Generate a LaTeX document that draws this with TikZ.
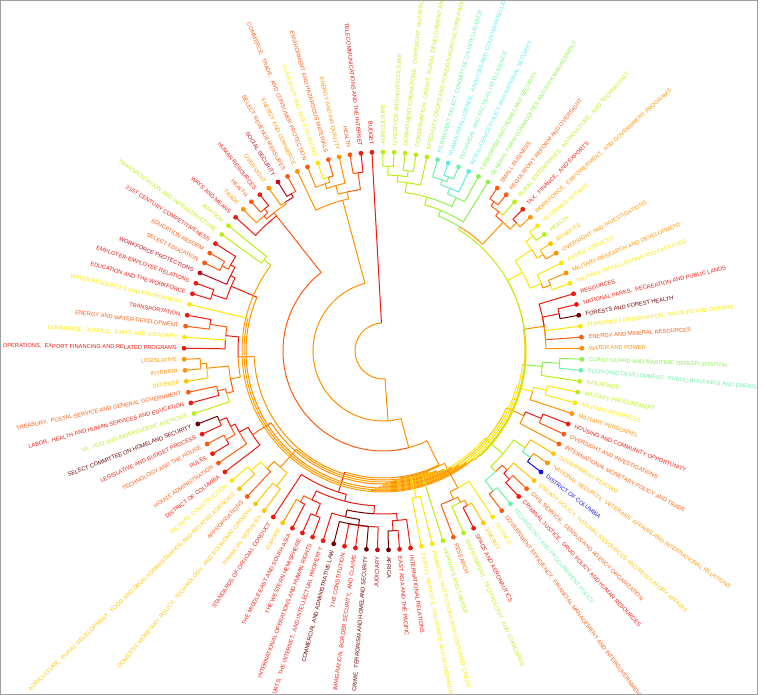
\documentclass[tikz,border=0pt]{standalone}
\usepackage{fontspec}
\setmainfont{Liberation Sans}
\definecolor{cYG}{RGB}{185,238,20}
\definecolor{cGR}{RGB}{140,240,80}
\definecolor{cAQ}{RGB}{110,240,170}
\definecolor{cCY}{RGB}{90,235,240}
\definecolor{cYE}{RGB}{250,232,0}
\definecolor{cGO}{RGB}{255,195,0}
\definecolor{cOR}{RGB}{255,145,0}
\definecolor{cOO}{RGB}{255,90,15}
\definecolor{cRE}{RGB}{240,25,15}
\definecolor{cDR}{RGB}{190,10,30}
\definecolor{cMA}{RGB}{110,0,0}
\definecolor{cBL}{RGB}{20,20,220}
\definecolor{cRing}{RGB}{255,160,0}
\definecolor{cRing2}{RGB}{255,180,0}
\newcommand\dd{3.18584}
% child idx, child r, parent r, parent idx, colour
\newcommand\br[5]{%
  \pgfmathsetmacro\ca{90-(#1-1)*\dd}%
  \pgfmathsetmacro\pa{90-(#4-1)*\dd}%
  \draw[brl,#5] (\ca:#2pt) -- (\ca:#3pt) arc[start angle=\ca, end angle=\pa, radius=#3pt];}
% child idx, child r, parent r, parent idx, radial colour, arc colour
\newcommand\bra[6]{%
  \pgfmathsetmacro\ca{90-(#1-1)*\dd}%
  \pgfmathsetmacro\pa{90-(#4-1)*\dd}%
  \draw[brl,#6] (\ca:#3pt) arc[start angle=\ca, end angle=\pa, radius=#3pt];
  \draw[brl,#5] (\ca:#2pt) -- (\ca:#3pt);}
% idx, colour, text
\newcommand\leaf[3]{%
  \pgfmathsetmacro\ca{90-(#1-1)*\dd}%
  \pgfmathtruncatemacro\lside{\ca<-90 ? 1 : 0}%
  \node[dotst, fill=#2] (L#1) at (\ca:199pt) {};
  \ifnum\lside=1
    \pgfmathsetmacro\rot{\ca+180}%
    \node[lab, text=#2, rotate=\rot, anchor=east] (T#1) at (\ca:206pt) {#3};
  \else
    \node[lab, text=#2, rotate=\ca, anchor=west] (T#1) at (\ca:206pt) {#3};
  \fi}
\begin{document}
\begin{tikzpicture}[x=1pt,y=1pt,
  lab/.style={font=\fontsize{5.7}{6}\selectfont, inner sep=0pt},
  dotst/.style={circle, inner sep=0pt, minimum size=4.8pt, draw=none},
  brl/.style={line width=1pt, line join=round}]
\useasboundingbox (-383,-344) rectangle (380,351);
\begin{scope}
\clip (-382.5,-343) rectangle (374,350.5);
% ---- root and main trunk
\br{113}{199}{28}{113}{cRE}
\br{56.2}{70}{28}{113}{cOR}
\br{109.3}{156}{70}{56.2}{cOR}
\br{52.8}{100}{70}{56.2}{cOR}
\br{102}{172}{100}{52.8}{cOO}
\br{49.3}{127}{100}{52.8}{cOR}
% ---- ring chain
\br{50.5}{128}{127}{49.3}{cRing}
\br{55}{129}{128}{50.5}{cOR}
\br{51}{130}{129}{55}{cRing}
\br{56}{131}{130}{51}{cRing2}
\br{50}{132}{131}{56}{cRing}
\br{57}{133}{132}{50}{cOR}
\br{49}{134}{133}{57}{cRing}
\br{57.5}{135}{134}{49}{cRing2}
\br{48}{136}{135}{57.5}{cRing}
\br{58}{137}{136}{48}{cOR}
\br{47}{138}{137}{58}{cRing}
\br{58.5}{139}{138}{47}{cRing2}
\br{46}{140}{139}{58.5}{cRing}
\br{59}{141}{140}{46}{cOR}
\br{45}{142}{141}{59}{cRing}
\br{44}{143}{142}{45}{cRing2}
% ---- clusters onto ring
\bra{63}{148}{127}{49.3}{cRE}{cOR}
\bra{48.5}{156}{128}{50.5}{cOR}{cRing}
\bra{85}{145}{129}{55}{cOR}{cOR}
\bra{53.5}{150}{130}{51}{cYE}{cGO}
\bra{70.5}{155}{131}{56}{cOR}{cRing}
\bra{52}{199}{132}{50}{cYG}{cGO}
\bra{75.5}{155}{133}{57}{cOO}{cOR}
\bra{42}{158}{134}{49}{cYG}{cYE}
\bra{37}{155}{136}{48}{cOR}{cGO}
\bra{93}{165}{137}{58}{cRE}{cOR}
\bra{34}{155}{138}{47}{cYE}{cYE}
\bra{90}{199}{139}{58.5}{cYE}{cRing}
\bra{31}{160}{140}{46}{cGR}{cYE}
\bra{97.5}{150}{141}{59}{cYG}{cRing}
\bra{26.5}{163}{142}{45}{cOR}{cGO}
\bra{20}{160}{143}{44}{cYE}{cYE}
\bra{11}{146}{143}{44}{cGR}{cYG}
% ---- T1 agriculture / intelligence / small business
\br{1}{199}{185}{1.5}{cYG}\br{2}{199}{185}{1.5}{cYG}
\br{3}{199}{182}{3.5}{cYG}\br{4}{199}{182}{3.5}{cYG}
\br{1.5}{185}{176}{2.5}{cYG}\br{3.5}{182}{176}{2.5}{cYG}
\br{5}{199}{170}{3.5}{cYG}\br{2.5}{176}{170}{3.5}{cYG}
\br{7}{199}{186}{7.5}{cCY}\br{8}{199}{186}{7.5}{cAQ}
\br{6}{199}{181}{7}{cAQ}\br{7.5}{186}{181}{7}{cAQ}
\br{9}{199}{176}{8}{cCY}\br{7}{181}{176}{8}{cAQ}
\br{10}{199}{170}{9}{cGR}\br{8}{176}{170}{9}{cAQ}
\br{3.5}{170}{160}{6}{cYG}\br{9}{170}{160}{6}{cGR}
\br{11}{199}{152}{8}{cGR}\br{6}{160}{152}{8}{cYG}
\br{12}{199}{186}{12.5}{cOO}\br{13}{199}{186}{12.5}{cOO}
\br{14}{199}{181}{13.5}{cYG}\br{12.5}{186}{181}{13.5}{cOO}
\br{15}{199}{185}{15.5}{cRE}\br{16}{199}{185}{15.5}{cOR}
\br{13.5}{181}{176}{14.5}{cOO}\br{15.5}{185}{176}{14.5}{cOR}
\br{8}{152}{146}{11}{cGR}\br{14.5}{176}{146}{11}{cOR}
% ---- T2 veterans / armed services
\br{17}{199}{189}{17.5}{cYE}\br{18}{199}{189}{17.5}{cYG}
\br{19}{199}{187}{19.5}{cGO}\br{20}{199}{187}{19.5}{cOR}
\br{17.5}{189}{180}{18.5}{cYE}\br{19.5}{187}{180}{18.5}{cGO}
\br{22}{199}{180}{22.5}{cOR}\br{23}{199}{180}{22.5}{cYE}
\br{21}{199}{172}{22}{cYE}\br{22.5}{180}{172}{22}{cOR}
\br{18.5}{180}{160}{20}{cYE}\br{22}{172}{160}{20}{cYE}
% ---- T3 resources
\br{25}{199}{180}{25.5}{cRE}\br{26}{199}{180}{25.5}{cMA}
\br{24}{199}{163}{26.5}{cRE}\br{25.5}{180}{163}{26.5}{cRE}
\br{27}{199}{163}{26.5}{cYE}\br{28}{199}{163}{26.5}{cOO}\br{29}{199}{163}{26.5}{cOR}
% ---- T4 transport
\br{30}{199}{177}{30.5}{cGR}\br{31}{199}{177}{30.5}{cAQ}
\br{30.5}{177}{160}{31}{cGR}\br{32}{199}{160}{31}{cYG}
% ---- T5 armed 2
\br{33}{199}{168}{33.5}{cYE}\br{34}{199}{168}{33.5}{cYE}
\br{33.5}{168}{155}{34}{cYE}\br{35}{199}{155}{34}{cOR}
% ---- T6 financial
\br{36}{199}{172}{36.5}{cRE}\br{37}{199}{172}{36.5}{cOO}
\br{36.5}{172}{155}{37}{cRE}\br{38}{199}{155}{37}{cOR}
% ---- T7 government reform
\br{40}{199}{182}{40.5}{cOR}\br{41}{199}{182}{40.5}{cBL}
\br{39}{199}{172}{40}{cGO}\br{40.5}{182}{172}{40}{cAQ}
\br{43}{199}{180}{43.5}{cOO}\br{44}{199}{180}{43.5}{cRE}
\br{42}{199}{172}{43}{cGO}\br{43.5}{180}{172}{43}{cRE}
\br{45}{199}{178}{45.5}{cAQ}\br{46}{199}{178}{45.5}{cOO}
\br{43}{172}{165}{44}{cOO}\br{45.5}{178}{165}{44}{cAQ}
\br{40}{172}{158}{42}{cYG}\br{44}{165}{158}{42}{cYG}
% ---- T8 science
\br{48}{199}{176}{48.5}{cGO}\br{49}{199}{176}{48.5}{cRE}
\br{50}{199}{170}{49}{cYG}\br{48.5}{176}{170}{49}{cOR}
\br{51}{199}{164}{49.5}{cOO}\br{49}{170}{164}{49.5}{cOR}
\br{47}{199}{156}{48.5}{cYE}\br{49.5}{164}{156}{48.5}{cOR}
% ---- T10
\br{53}{199}{150}{53.5}{cYE}\br{54}{199}{150}{53.5}{cYE}
% ---- T11 international relations / judiciary
\br{56}{199}{180}{56.5}{cRE}\br{57}{199}{180}{56.5}{cMA}
\br{55}{199}{170}{56}{cRE}\br{56.5}{180}{170}{56}{cRE}
\br{58}{199}{176}{60}{cRE}\br{59}{199}{176}{60}{cMA}\br{60}{199}{176}{60}{cRE}
\br{61}{199}{176}{60}{cRE}\br{62}{199}{176}{60}{cMA}
\br{63}{199}{170}{61.5}{cRE}\br{60}{176}{170}{61.5}{cMA}
\br{56}{170}{163}{58.5}{cRE}\br{61.5}{170}{163}{58.5}{cMA}
\br{64}{199}{178}{64.5}{cRE}\br{65}{199}{178}{64.5}{cRE}
\br{66}{199}{172}{66.5}{cRE}\br{67}{199}{172}{66.5}{cOR}
\br{64.5}{178}{165}{65.5}{cRE}\br{66.5}{172}{165}{65.5}{cOO}
\br{58.5}{163}{155}{62}{cRE}\br{65.5}{165}{155}{62}{cRE}
\br{68}{199}{148}{63}{cRE}\br{62}{155}{148}{63}{cRE}
% ---- T12
\br{69}{199}{172}{69.5}{cGO}\br{70}{199}{172}{69.5}{cGO}
\br{72}{199}{178}{72.5}{cGO}\br{73}{199}{178}{72.5}{cYE}
\br{71}{199}{165}{71.5}{cOO}\br{72.5}{178}{165}{71.5}{cYE}
\br{69.5}{172}{155}{70.5}{cGO}\br{71.5}{165}{155}{70.5}{cOR}
% ---- T13
\br{76}{199}{180}{76.5}{cRE}\br{77}{199}{180}{76.5}{cOO}
\br{78}{199}{178}{78.5}{cRE}\br{79}{199}{178}{78.5}{cMA}
\br{76.5}{180}{170}{77.5}{cOO}\br{78.5}{178}{170}{77.5}{cRE}
\br{75}{199}{165}{76.5}{cOO}\br{77.5}{170}{165}{76.5}{cRE}
\br{74}{199}{155}{75.5}{cRE}\br{76.5}{165}{155}{75.5}{cRE}
% ---- T14 appropriations
\br{88}{199}{175}{88.5}{cOO}\br{89}{199}{175}{88.5}{cRE}
\br{86}{199}{158}{87.5}{cRE}\br{87}{199}{158}{87.5}{cYE}\br{88.5}{175}{158}{87.5}{cOO}
\br{84}{199}{183}{84.5}{cOR}\br{85}{199}{183}{84.5}{cOR}
\br{83}{199}{177}{84}{cGO}\br{84.5}{183}{177}{84}{cOR}
\br{81}{199}{170}{81.5}{cRE}\br{82}{199}{170}{81.5}{cOO}
\br{80}{199}{162}{81}{cYG}\br{81.5}{170}{162}{81}{cOO}
\br{81}{162}{155}{82.5}{cOO}\br{84}{177}{155}{82.5}{cOR}
\br{82.5}{155}{145}{85}{cOR}\br{87.5}{158}{145}{85}{cRE}
% ---- T15 education and workforce
\br{91}{199}{180}{91.5}{cRE}\br{92}{199}{180}{91.5}{cRE}
\br{94}{199}{182}{94.5}{cOO}\br{95}{199}{182}{94.5}{cOO}
\br{96}{199}{175}{95}{cRE}\br{94.5}{182}{175}{95}{cOO}
\br{93}{199}{170}{94}{cDR}\br{95}{175}{170}{94}{cRE}
\br{91.5}{180}{165}{93}{cRE}\br{94}{170}{165}{93}{cRE}
% ---- T16
\br{97}{199}{150}{97.5}{cYG}\br{98}{199}{150}{97.5}{cYG}
% ---- ways and means
\br{104}{199}{182}{104.5}{cDR}\br{105}{199}{182}{104.5}{cOO}
\br{101}{199}{185}{101.5}{cOO}\br{102}{199}{185}{101.5}{cRE}
\br{103}{199}{178}{103.5}{cOR}\br{104.5}{182}{178}{103.5}{cDR}
\br{100}{199}{180}{101}{cOR}\br{101.5}{185}{180}{101}{cOO}
\br{101}{180}{176}{102}{cOO}\br{103.5}{178}{176}{102}{cOR}
\br{99}{199}{172}{102}{cRE}\br{102}{176}{172}{102}{cOO}
% ---- energy and commerce
\br{108}{199}{182}{108.5}{cYE}\br{109}{199}{182}{108.5}{cOO}
\br{107}{199}{177}{108}{cOR}\br{108.5}{182}{177}{108}{cOR}
\br{110}{199}{172}{109}{cOR}\br{108}{177}{172}{109}{cOR}
\br{111}{199}{180}{111.5}{cOO}\br{112}{199}{180}{111.5}{cRE}
\br{109}{172}{163}{110}{cOR}\br{111.5}{180}{163}{110}{cOO}
\br{106}{199}{156}{109.3}{cOR}\br{110}{163}{156}{109.3}{cOR}
% ---- leaves
\leaf{1}{cYG}{AGRICULTURE}
\leaf{2}{cYG}{LIVESTOCK AND HORTICULTURE}
\leaf{3}{cYG}{DEPARTMENT OPERATIONS,~ OVERSIGHT,~ NUTRITION,~ AND FORESTRY}
\leaf{4}{cYG}{CONSERVATION,~ CREDIT,~ RURAL DEVELOPMENT AND RESEARCH}
\leaf{5}{cYG}{SPECIALTY CROPS AND FOREIGN AGRICULTURE PROGRAMS}
\leaf{6}{cAQ}{PERMANENT SELECT COMMITTEE ON INTELLIGENCE}
\leaf{7}{cCY}{HUMAN INTELLIGENCE,~ ANALYSIS AND COUNTERINTELLIGENCE}
\leaf{8}{cAQ}{TECHNICAL AND TACTICAL INTELLIGENCE}
\leaf{9}{cCY}{INTELLIGENCE POLICY AND NATIONAL SECURITY}
\leaf{10}{cGR}{TERRORISM AND HOMELAND SECURITY}
\leaf{11}{cGR}{GENERAL FARM COMMODITIES AND RISK MANAGEMENT}
\leaf{12}{cOO}{SMALL BUSINESS}
\leaf{13}{cOO}{REGULATORY REFORM AND OVERSIGHT}
\leaf{14}{cYG}{RURAL ENTERPRISES,~ AGRICULTURE,~ AND TECHNOLOGY}
\leaf{15}{cRE}{TAX,~ FINANCE,~ AND EXPORTS}
\leaf{16}{cOR}{WORKFORCE,~ EMPOWERMENT,~ AND GOVERNMENT PROGRAMS}
\leaf{17}{cYE}{VETERANS' AFFAIRS}
\leaf{18}{cYG}{HEALTH}
\leaf{19}{cGO}{BENEFITS}
\leaf{20}{cOR}{OVERSIGHT AND INVESTIGATIONS}
\leaf{21}{cYE}{ARMED SERVICES}
\leaf{22}{cOR}{MILITARY RESEARCH AND DEVELOPMENT}
\leaf{23}{cYE}{MILITARY INSTALLATIONS AND FACILITIES}
\leaf{24}{cRE}{RESOURCES}
\leaf{25}{cRE}{NATIONAL PARKS,~ RECREATION AND PUBLIC LANDS}
\leaf{26}{cMA}{FORESTS AND FOREST HEALTH}
\leaf{27}{cYE}{FISHERIES CONSERVATION,~ WILDLIFE AND OCEANS}
\leaf{28}{cOO}{ENERGY AND MINERAL RESOURCES}
\leaf{29}{cOR}{WATER AND POWER}
\leaf{30}{cGR}{COAST GUARD AND MARITIME TRANSPORTATION}
\leaf{31}{cAQ}{ECONOMIC DEVELOPMENT,~ PUBLIC BUILDINGS AND EMERGENCY MANAGEMENT}
\leaf{32}{cYG}{RAILROADS}
\leaf{33}{cYG}{MILITARY PROCUREMENT}
\leaf{34}{cYE}{MILITARY READINESS}
\leaf{35}{cOR}{MILITARY PERSONNEL}
\leaf{36}{cRE}{HOUSING AND COMMUNITY OPPORTUNITY}
\leaf{37}{cOO}{OVERSIGHT AND INVESTIGATIONS}
\leaf{38}{cOO}{INTERNATIONAL MONETARY POLICY AND TRADE}
\leaf{39}{cGO}{GOVERNMENT REFORM}
\leaf{40}{cOR}{NATIONAL SECURITY,~ VETERANS' AFFAIRS AND INTERNATIONAL RELATIONS}
\leaf{41}{cBL}{DISTRICT OF COLUMBIA}
\leaf{42}{cGO}{ENERGY POLICY,~ NATURAL RESOURCES AND REGULATORY AFFAIRS}
\leaf{43}{cOO}{CIVIL SERVICE,~ CENSUS AND AGENCY ORGANIZATION}
\leaf{44}{cRE}{CRIMINAL JUSTICE,~ DRUG POLICY AND HUMAN RESOURCES}
\leaf{45}{cAQ}{TECHNOLOGY AND PROCUREMENT POLICY}
\leaf{46}{cOO}{GOVERNMENT EFFICIENCY,~ FINANCIAL MANAGEMENT AND INTERGOVERNMENTAL RELATIONS}
\leaf{47}{cYE}{SCIENCE}
\leaf{48}{cGO}{ENERGY}
\leaf{49}{cRE}{SPACE AND AERONAUTICS}
\leaf{50}{cYG}{ENVIRONMENT,~ TECHNOLOGY,~ AND STANDARDS}
\leaf{51}{cOO}{RESEARCH}
\leaf{52}{cYG}{HIGHWAYS AND TRANSIT}
\leaf{53}{cYE}{FINANCIAL INSTITUTIONS AND CONSUMER CREDIT}
\leaf{54}{cYE}{CAPITAL MARKETS,~ INSURANCE AND GOVERNMENT SPONSORED ENTERPRISES}
\leaf{55}{cRE}{INTERNATIONAL RELATIONS}
\leaf{56}{cRE}{EAST ASIA AND THE PACIFIC}
\leaf{57}{cMA}{AFRICA}
\leaf{58}{cDR}{JUDICIARY}
\leaf{59}{cMA}{CRIME,~ TERRORISM AND HOMELAND SECURITY}
\leaf{60}{cRE}{IMMIGRATION,~ BORDER SECURITY,~ AND CLAIMS}
\leaf{61}{cRE}{THE CONSTITUTION}
\leaf{62}{cMA}{COMMERCIAL AND ADMINISTRATIVE LAW}
\leaf{63}{cRE}{COURTS,~ THE INTERNET,~ AND INTELLECTUAL PROPERTY}
\leaf{64}{cRE}{INTERNATIONAL OPERATIONS AND HUMAN RIGHTS}
\leaf{65}{cRE}{THE WESTERN HEMISPHERE}
\leaf{66}{cRE}{THE MIDDLE EAST AND SOUTH ASIA}
\leaf{67}{cGO}{EUROPE}
\leaf{68}{cRE}{STANDARDS OF OFFICIAL CONDUCT}
\leaf{69}{cGO}{FINANCIAL SERVICES}
\leaf{70}{cGO}{DOMESTIC MONETARY POLICY,~ TECHNOLOGY,~ AND ECONOMIC GROWTH}
\leaf{71}{cOO}{APPROPRIATIONS}
\leaf{72}{cGO}{AGRICULTURE,~ RURAL DEVELOPMENT,~ FOOD AND DRUG ADMINISTRATION AND RELATED AGENCIES}
\leaf{73}{cYE}{MILITARY CONSTRUCTION}
\leaf{74}{cRE}{DISTRICT OF COLUMBIA}
\leaf{75}{cOO}{HOUSE ADMINISTRATION}
\leaf{76}{cRE}{RULES}
\leaf{77}{cOO}{TECHNOLOGY AND THE HOUSE}
\leaf{78}{cRE}{LEGISLATIVE AND BUDGET PROCESS}
\leaf{79}{cMA}{SELECT COMMITTEE ON HOMELAND SECURITY}
\leaf{80}{cYG}{VA,~ HUD AND INDEPENDENT AGENCIES}
\leaf{81}{cRE}{LABOR,~ HEALTH AND HUMAN SERVICES AND EDUCATION}
\leaf{82}{cOO}{TREASURY,~ POSTAL SERVICE AND GENERAL GOVERNMENT}
\leaf{83}{cGO}{DEFENSE}
\leaf{84}{cOR}{INTERIOR}
\leaf{85}{cOR}{LEGISLATIVE}
\leaf{86}{cRE}{OPERATIONS,~ EXPORT FINANCING AND RELATED PROGRAMS}
\leaf{87}{cYE}{COMMERCE,~ JUSTICE,~ STATE AND JUDICIARY}
\leaf{88}{cOO}{ENERGY AND WATER DEVELOPMENT}
\leaf{89}{cRE}{TRANSPORTATION}
\leaf{90}{cYE}{WATER RESOURCES AND ENVIRONMENT}
\leaf{91}{cRE}{EDUCATION AND THE WORKFORCE}
\leaf{92}{cRE}{EMPLOYER-EMPLOYEE RELATIONS}
\leaf{93}{cDR}{WORKFORCE PROTECTIONS}
\leaf{94}{cOO}{SELECT EDUCATION}
\leaf{95}{cOO}{EDUCATION REFORM}
\leaf{96}{cRE}{21ST CENTURY COMPETITIVENESS}
\leaf{97}{cYG}{TRANSPORTATION AND INFRASTRUCTURE}
\leaf{98}{cYG}{AVIATION}
\leaf{99}{cRE}{WAYS AND MEANS}
\leaf{100}{cOR}{TRADE}
\leaf{101}{cOO}{HEALTH}
\leaf{102}{cRE}{HUMAN RESOURCES}
\leaf{103}{cOR}{OVERSIGHT}
\leaf{104}{cDR}{SOCIAL SECURITY}
\leaf{105}{cOO}{SELECT REVENUE MEASURES}
\leaf{106}{cOR}{ENERGY AND COMMERCE}
\leaf{107}{cOO}{COMMERCE,~ TRADE,~ AND CONSUMER PROTECTION}
\leaf{108}{cYE}{OVERSIGHT AND INVESTIGATIONS}
\leaf{109}{cOO}{ENVIRONMENT AND HAZARDOUS MATERIALS}
\leaf{110}{cOR}{ENERGY AND AIR QUALITY}
\leaf{111}{cOO}{HEALTH}
\leaf{112}{cRE}{TELECOMMUNICATIONS AND THE INTERNET}
\leaf{113}{cRE}{BUDGET}
\end{scope}
\draw[gray!75, line width=1pt] (-382.5,-343) rectangle (374,350.5);
\end{tikzpicture}
\end{document}
